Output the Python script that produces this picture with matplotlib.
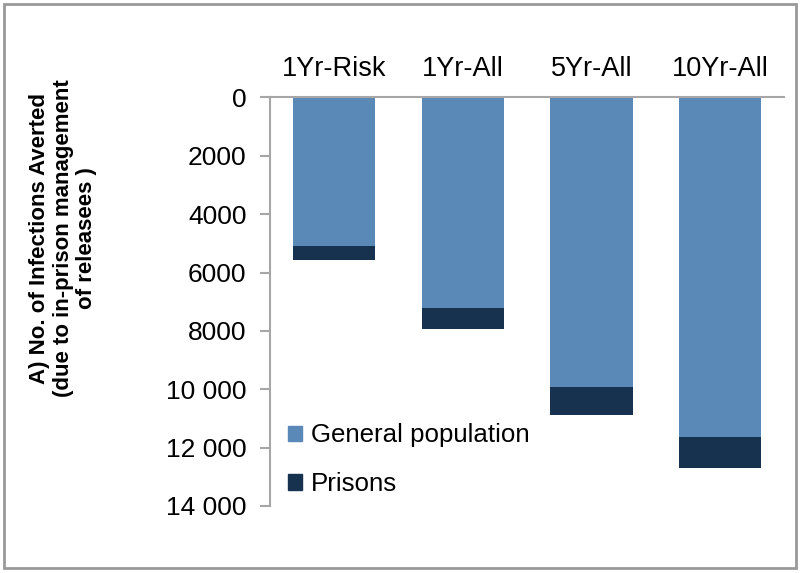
import matplotlib
matplotlib.use("Agg")
import matplotlib.pyplot as plt
from matplotlib.patches import Rectangle, Patch

plt.rcParams['font.family'] = ['Liberation Sans', 'DejaVu Sans']

# values (infections averted)
categories = ["1Yr-Risk", "1Yr-All", "5Yr-All", "10Yr-All"]
general_population = [5080, 7210, 9910, 11630]
prisons = [490, 740, 970, 1080]
ytick_values = [0, 2000, 4000, 6000, 8000, 10000, 12000, 14000]
ytick_labels = ["0", "2000", "4000", "6000", "8000", "10 000", "12 000", "14 000"]

light = "#5A89B8"
dark = "#17324F"
grey = "#A6A6A6"

fig = plt.figure(figsize=(8, 5.73), dpi=100)
ax = fig.add_axes([0.3375, 0.117, 0.643, 0.713])

x = list(range(len(categories)))
ax.bar(x, general_population, width=0.64, color=light, label="General population")
ax.bar(x, prisons, width=0.64, bottom=general_population, color=dark, label="Prisons")

ax.set_xlim(-0.5, len(categories) - 0.5)
ax.set_ylim(14000, 0)
ax.set_yticks(ytick_values)
ax.set_yticklabels(ytick_labels, fontsize=19)
ax.set_xticks(x)
ax.set_xticklabels(categories, fontsize=19.5)
ax.xaxis.tick_top()
ax.tick_params(axis='x', length=0, pad=11)
ax.tick_params(axis='y', length=7, width=1.5, color=grey, pad=10)

for side in ["right", "bottom"]:
    ax.spines[side].set_visible(False)
for side in ["left", "top"]:
    ax.spines[side].set_color(grey)
    ax.spines[side].set_linewidth(1.5)

fig.text(63 / 800, 1 - 238 / 573,
         "A) No. of Infections Averted\n(due to in-prison management\nof releasees )",
         rotation=90, ha='center', va='center', multialignment='center',
         fontsize=16, fontweight='bold', linespacing=1.17)

handles = [Patch(color=light), Patch(color=dark)]
ax.legend(handles, ["General population", "Prisons"], loc='upper left',
          bbox_to_anchor=(0.347, 0.279), bbox_transform=fig.transFigure,
          frameon=False, fontsize=18.6, handlelength=0.55, handleheight=0.55,
          handletextpad=0.33, labelspacing=0.95, borderaxespad=0)

fig.patches.append(Rectangle((0.005, 0.008), 0.99, 0.985, transform=fig.transFigure,
                             fill=False, edgecolor="#999999", linewidth=2))

fig.savefig("out.png", dpi=100)
